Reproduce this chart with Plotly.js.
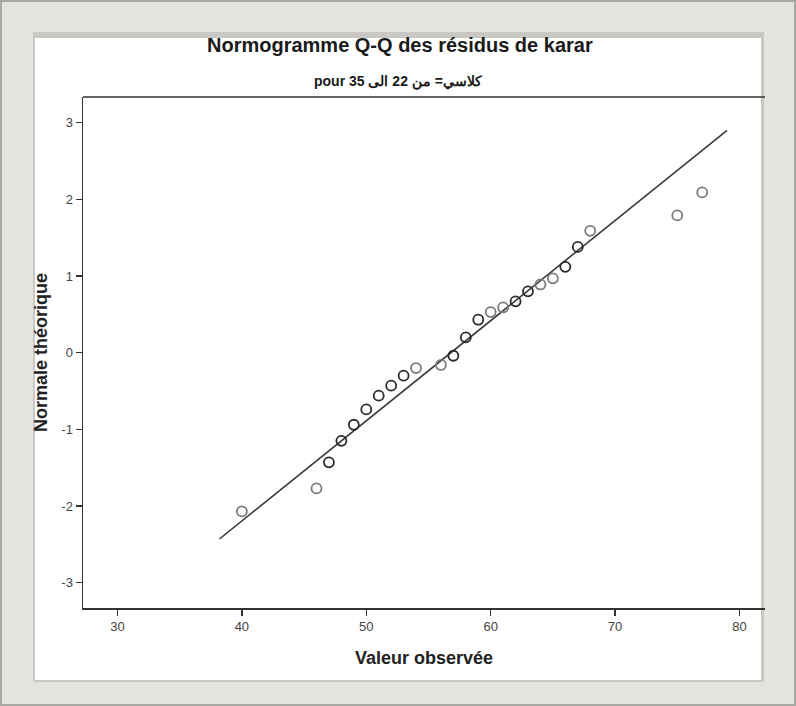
<!DOCTYPE html>
<html>
<head>
<meta charset="utf-8">
<script src="https://cdn.plot.ly/plotly-3.0.1.min.js"></script>
<style>html,body{margin:0;padding:0;background:#e5e3de;}#chart{width:796px;height:706px;}</style>
</head>
<body>
<div id="chart"></div>
<script>
// Observed values (x) and expected normal quantiles (y)
var observed = [40, 46, 47, 48, 49, 50, 51, 52, 53, 54, 56, 57, 58, 59, 60, 61, 62, 63, 64, 65, 66, 67, 68, 75, 77];
var expectedNormal = [-2.07, -1.77, -1.43, -1.15, -0.94, -0.74, -0.56, -0.43, -0.30, -0.20, -0.16, -0.04, 0.20, 0.43, 0.53, 0.59, 0.67, 0.80, 0.89, 0.97, 1.12, 1.38, 1.59, 1.79, 2.09];
// number of cases sharing the point (darker rings)
var freq = [1, 1, 2, 2, 2, 2, 2, 2, 2, 1, 1, 2, 2, 2, 1, 1, 2, 2, 1, 1, 2, 2, 1, 1, 1];
// reference line end points
var refLineX = [38.2, 79.0];
var refLineY = [-2.43, 2.90];
var xTicks = [30, 40, 50, 60, 70, 80];
var yTicks = [-3, -2, -1, 0, 1, 2, 3];

var ringColors = freq.map(function (f) { return f > 1 ? '#2a2a2a' : '#7a7a7a'; });

var fontN = '"Liberation Sans Narrow", "Arial Narrow", "Liberation Sans", Arial, sans-serif';

var traces = [
  {
    x: refLineX, y: refLineY, mode: 'lines', type: 'scatter',
    line: {color: '#3a3a3a', width: 1.6}, hoverinfo: 'skip', showlegend: false
  },
  {
    x: observed, y: expectedNormal, mode: 'markers', type: 'scatter',
    marker: {symbol: 'circle-open', size: 10, color: ringColors, line: {width: 1.8, color: ringColors}},
    showlegend: false
  }
];

// paper coordinate helpers (plot area: px 83..765 horizontally, 97..608 vertically)
function px(x) { return (x - 83) / 682; }
function py(y) { return (608 - y) / 511; }

var layout = {
  width: 796, height: 706,
  margin: {l: 83, r: 31, t: 97, b: 98},
  paper_bgcolor: '#e5e3de',
  plot_bgcolor: 'rgba(0,0,0,0)',
  showlegend: false,
  font: {family: fontN, color: '#333'},
  xaxis: {
    range: [27.23, 82.05], tickvals: xTicks, ticktext: xTicks.map(String),
    showgrid: false, zeroline: false, showline: true, linecolor: '#333', linewidth: 1.5,
    ticks: 'outside', ticklen: 6, tickwidth: 1.3, tickcolor: '#333',
    tickfont: {family: fontN, size: 13, color: '#444'},
    title: {text: 'Valeur observée', font: {family: fontN, size: 18, color: '#222', weight: 'bold'}, standoff: 18}
  },
  yaxis: {
    range: [-3.33, 3.335], tickvals: yTicks, ticktext: yTicks.map(String),
    showgrid: false, zeroline: false, showline: true, linecolor: '#333', linewidth: 1.5,
    ticks: 'outside', ticklen: 6, tickwidth: 1.3, tickcolor: '#333',
    tickfont: {family: fontN, size: 13, color: '#444'},
    title: {text: 'Normale théorique', font: {family: fontN, size: 18, color: '#222', weight: 'bold'}, standoff: 9}
  },
  shapes: [
    // outer frame border
    {type: 'rect', xref: 'paper', yref: 'paper', layer: 'below',
     x0: px(1), x1: px(795), y0: py(1), y1: py(705),
     line: {color: '#a9a8a4', width: 2}, fillcolor: '#e5e3de'},
    // bevel shadow of the inner panel
    {type: 'rect', xref: 'paper', yref: 'paper', layer: 'below',
     x0: px(33), x1: px(764), y0: py(32), y1: py(682),
     line: {width: 0}, fillcolor: '#c9c8c4'},
    // white inner panel
    {type: 'rect', xref: 'paper', yref: 'paper', layer: 'below',
     x0: px(35), x1: px(761), y0: py(38), y1: py(680),
     line: {width: 0}, fillcolor: '#ffffff'},
    // top frame line
    {type: 'line', xref: 'paper', yref: 'paper', layer: 'above',
     x0: 0, x1: 1, y0: 1, y1: 1, line: {color: '#333', width: 1.5}}
  ],
  annotations: [
    {text: 'Normogramme Q-Q des résidus de karar', xref: 'paper', yref: 'paper',
     x: px(400), y: py(45), xanchor: 'center', yanchor: 'middle', showarrow: false,
     font: {family: fontN, size: 20, color: '#1a1a1a', weight: 'bold'}},
    {text: 'pour كلاسي= من 22 الى 35', xref: 'paper', yref: 'paper',
     x: px(398), y: py(82), xanchor: 'center', yanchor: 'middle', showarrow: false,
     font: {family: fontN, size: 14, color: '#1a1a1a', weight: 'bold'}}
  ]
};

Plotly.newPlot('chart', traces, layout, {displayModeBar: false, staticPlot: true});
</script>
</body>
</html>
